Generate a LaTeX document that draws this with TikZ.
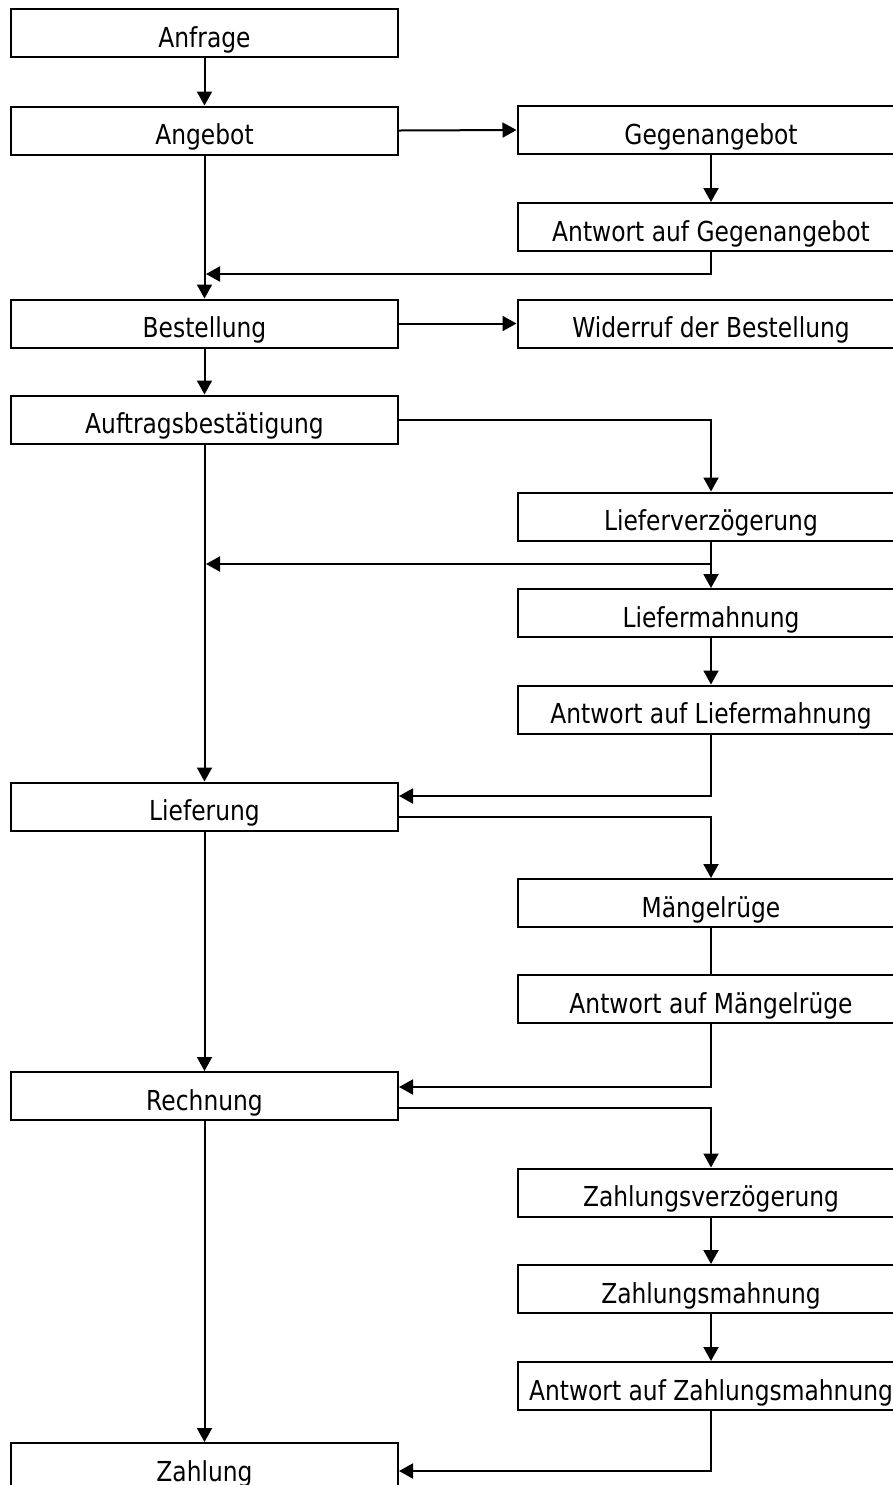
\documentclass[tikz,border=0pt]{standalone}
\usepackage{fontspec}
\setmainfont[FakeStretch=0.85]{DejaVu Sans}
\usetikzlibrary{arrows.meta}

\begin{document}
\begin{tikzpicture}[x=0.5pt, y=-0.5pt,
    box/.style={draw, black, line width=1pt, minimum width=193.5pt, minimum height=24pt, inner sep=0pt, text height=14pt, text depth=0pt, font=\fontsize{13.75pt}{16pt}\selectfont},
    arrow/.style={-{Triangle[length=7pt, width=7.5pt]}, black, line width=1pt},
    plain/.style={black, line width=1pt}]
    \useasboundingbox (0,0) rectangle (893,1485);
    \foreach \name/\x/\y/\label in {anfrage/204.5/33/Anfrage, angebot/204.5/130.5/Angebot,
        gegenangebot/711/130/Gegenangebot, antwortgegen/711/227/Antwort auf Gegenangebot,
        bestellung/204.5/323.5/Bestellung, widerruf/711/323.5/Widerruf der Bestellung,
        auftrag/204.5/419.5/Auftragsbestätigung, verzoegerung/711/516.5/Lieferverzögerung,
        liefermahnung/711/613/Liefermahnung, antwortliefer/711/709.5/Antwort auf Liefermahnung,
        lieferung/204.5/806.5/Lieferung, maengel/711/903/Mängelrüge,
        antwortmaengel/711/999/Antwort auf Mängelrüge, rechnung/204.5/1096/Rechnung,
        zverz/711/1192.5/Zahlungsverzögerung, zmahnung/711/1289/Zahlungsmahnung,
        antwortzahlung/711/1386/Antwort auf Zahlungsmahnung, zahlung/204.5/1467/Zahlung} {
        \node[box] (\name) at (\x,\y) {\label};
    }
    \foreach \a/\b in {anfrage/angebot, gegenangebot/antwortgegen, angebot/bestellung,
        bestellung/auftrag, verzoegerung/liefermahnung, liefermahnung/antwortliefer,
        auftrag/lieferung, lieferung/rechnung, zverz/zmahnung, zmahnung/antwortzahlung,
        rechnung/zahlung} {
        \draw[arrow] (\a.south) -- (\b.north);
    }
    \draw[arrow] (angebot.east) -- (gegenangebot.west);
    \draw[arrow] (bestellung.east) -- (widerruf.west);
    \coordinate (join1) at (206,274);
    \coordinate (join2) at (206,564);
    \draw[arrow] (antwortgegen.south) |- (join1);
    \draw[arrow] (verzoegerung.south |- join2) -- (join2);
    \draw[arrow] (auftrag.east) -| (verzoegerung.north);
    \draw[arrow] (antwortliefer.south) |- ([yshift=5.25pt]lieferung.east);
    \draw[arrow] ([yshift=-5.25pt]lieferung.east) -| (maengel.north);
    \draw[plain] (maengel.south) -- (antwortmaengel.north);
    \draw[arrow] (antwortmaengel.south) |- ([yshift=4.5pt]rechnung.east);
    \draw[arrow] ([yshift=-6pt]rechnung.east) -| (zverz.north);
    \draw[arrow] (antwortzahlung.south) |- ([yshift=-2pt]zahlung.east);
\end{tikzpicture}
\end{document}
